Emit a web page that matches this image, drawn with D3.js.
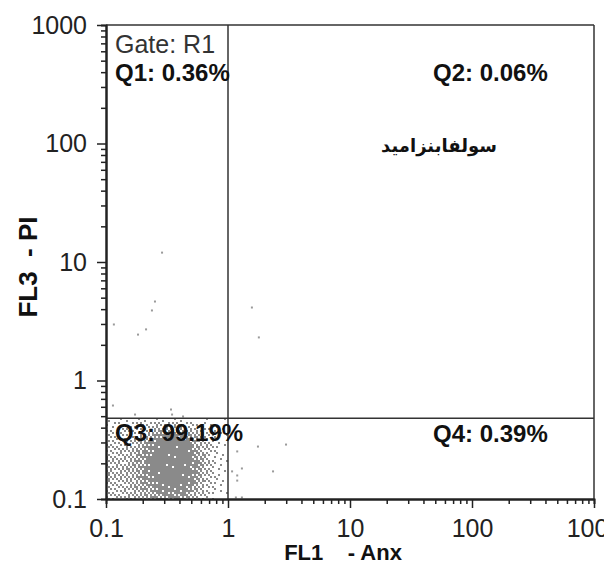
<!DOCTYPE html>
<html>
<head>
<meta charset="utf-8">
<script src="https://cdn.jsdelivr.net/npm/d3@7"></script>
<style>
  body { margin: 0; background: #fff; }
  text { font-family: "Liberation Sans", Arial, sans-serif; }
</style>
</head>
<body>
<svg width="604" height="564"></svg>
<script>
// decade tick labels on both axes
const xTicks = [0.1, 1, 10, 100, 1000];
const yTicks = [0.1, 1, 10, 100, 1000];

// quadrant gate
const gateX = 1;
const gateY = 0.48;
const gateName = "Gate: R1";
const quadNames = ["Q1: 0.36%", "Q2: 0.06%", "Q3: 99.19%", "Q4: 0.39%"];
const sampleName = "سولفابنزامید";
const xTitle = "FL1    - Anx";
const yTitle = "FL3  - PI";

// main population, estimated coverage (0..1) per 0.05 x 0.05 decade bin,
// x from 0.1 to 1, rows listed from top (log y = -0.30) to bottom (log y = -1)
const binDecades = 0.05;
const binXStart = 0.1;
const binYStart = 0.1;
const cloudDensity = [
  [0.05,0.05,0.08,0.10,0.10,0.10,0.12,0.12,0.12,0.12,0.12,0.12,0.10,0.10,0.08,0.06,0.05,0.04,0.03,0.02],
  [0.15,0.15,0.18,0.20,0.22,0.25,0.28,0.30,0.35,0.35,0.35,0.35,0.30,0.28,0.25,0.20,0.15,0.10,0.06,0.04],
  [0.20,0.22,0.25,0.28,0.30,0.35,0.40,0.50,0.60,0.65,0.70,0.65,0.60,0.50,0.40,0.30,0.20,0.14,0.08,0.05],
  [0.25,0.28,0.30,0.32,0.35,0.42,0.55,0.70,0.85,0.90,0.92,0.90,0.85,0.72,0.52,0.38,0.25,0.16,0.10,0.06],
  [0.30,0.30,0.32,0.36,0.42,0.50,0.66,0.84,0.94,0.97,0.97,0.97,0.95,0.85,0.65,0.45,0.30,0.20,0.12,0.07],
  [0.32,0.32,0.35,0.40,0.46,0.58,0.76,0.92,0.97,0.97,0.97,0.97,0.97,0.92,0.72,0.50,0.35,0.22,0.14,0.08],
  [0.35,0.35,0.38,0.42,0.50,0.64,0.82,0.95,0.97,0.97,0.97,0.97,0.97,0.95,0.78,0.55,0.38,0.24,0.15,0.08],
  [0.38,0.38,0.40,0.45,0.54,0.68,0.85,0.96,0.97,0.97,0.97,0.97,0.97,0.95,0.80,0.58,0.40,0.25,0.15,0.08],
  [0.40,0.40,0.42,0.47,0.56,0.70,0.86,0.96,0.97,0.97,0.97,0.97,0.97,0.95,0.80,0.58,0.40,0.25,0.15,0.08],
  [0.40,0.40,0.42,0.47,0.56,0.68,0.84,0.95,0.97,0.97,0.97,0.97,0.97,0.92,0.75,0.55,0.38,0.24,0.14,0.08],
  [0.38,0.38,0.40,0.45,0.52,0.64,0.80,0.92,0.96,0.97,0.97,0.97,0.95,0.88,0.70,0.50,0.35,0.22,0.13,0.07],
  [0.35,0.35,0.38,0.42,0.48,0.58,0.72,0.84,0.90,0.92,0.94,0.92,0.90,0.80,0.62,0.45,0.30,0.20,0.12,0.06],
  [0.32,0.32,0.35,0.38,0.42,0.50,0.60,0.72,0.80,0.84,0.86,0.84,0.80,0.70,0.52,0.38,0.26,0.17,0.10,0.05],
  [0.30,0.30,0.32,0.35,0.38,0.44,0.52,0.62,0.70,0.74,0.76,0.74,0.70,0.60,0.45,0.32,0.22,0.15,0.08,0.04]
];

// single events outside the main population [FL1, FL3]
const sparseEvents = [
  [0.288, 12.0], [0.252, 4.64], [0.238, 3.9], [0.116, 2.97], [0.183, 2.44], [0.213, 2.7],
  [1.57, 4.13], [1.79, 2.31],
  [0.114, 0.615], [0.173, 0.516], [0.341, 0.569], [0.348, 0.516], [0.428, 0.497],
  [1.19, 0.252], [1.76, 0.277], [2.99, 0.288], [1.30, 0.181], [1.08, 0.171],
  [1.19, 0.158], [1.19, 0.143], [2.34, 0.171], [1.16, 0.103], [1.30, 0.103]
];

const svg = d3.select("svg");
const margin = {top: 25, right: 10, bottom: 65, left: 106};
const W = +svg.attr("width"), H = +svg.attr("height");

const x = d3.scaleLog().domain([0.1, 1000]).range([margin.left, W - margin.right]);
const y = d3.scaleLog().domain([0.1, 1000]).range([H - margin.bottom, margin.top]);

const minorOf = ticks => ticks.slice(0, -1).flatMap(d => d3.range(2, 10).map(k => d * k));

// population drawn as dots on a 2px lattice, dithered by bin coverage
// (interleaved gradient threshold on the lattice index)
const step = 2;
const threshold = (i, j) => {
  const f = 0.06711056 * i + 0.00583715 * j;
  const g = 52.9829189 * (f - Math.floor(f));
  return g - Math.floor(g);
};
const dots = [];
const nRows = cloudDensity.length;
cloudDensity.forEach((row, ri) => {
  const r = nRows - 1 - ri;
  const y0 = y(binYStart * Math.pow(10, (r + 1) * binDecades));
  const y1 = y(binYStart * Math.pow(10, r * binDecades));
  row.forEach((v, c) => {
    const x0 = x(binXStart * Math.pow(10, c * binDecades));
    const x1 = x(binXStart * Math.pow(10, (c + 1) * binDecades));
    for (let px = Math.ceil(x0 / step) * step; px < x1; px += step) {
      for (let py = Math.ceil(y0 / step) * step; py < y1; py += step) {
        if (v > threshold(px / step, py / step)) dots.push([px, py]);
      }
    }
  });
});

svg.append("g")
  .selectAll("rect")
  .data(dots)
  .join("rect")
  .attr("x", d => d[0])
  .attr("y", d => d[1])
  .attr("width", 2)
  .attr("height", 2)
  .attr("fill", "#8a8a8a");

svg.append("g")
  .selectAll("rect")
  .data(sparseEvents)
  .join("rect")
  .attr("x", d => x(d[0]) - 1)
  .attr("y", d => y(d[1]) - 1)
  .attr("width", 2)
  .attr("height", 2)
  .attr("fill", "#9a9a9a");

// frame and gate lines
const frame = svg.append("g").attr("stroke", "#333").attr("stroke-width", 1.5);
frame.append("line")
  .attr("x1", x(0.1)).attr("x2", x(1000)).attr("y1", y(1000)).attr("y2", y(1000));
frame.append("line")
  .attr("x1", x(1000)).attr("x2", x(1000)).attr("y1", y(1000)).attr("y2", y(0.1));
frame.append("line")
  .attr("x1", x(gateX)).attr("x2", x(gateX)).attr("y1", y(1000)).attr("y2", y(0.1));
frame.append("line")
  .attr("x1", x(0.1)).attr("x2", x(1000)).attr("y1", y(gateY)).attr("y2", y(gateY));

// axes
const styleAxis = g => {
  g.select(".domain").attr("stroke", "#222").attr("stroke-width", 2);
  g.selectAll(".tick line").attr("stroke", "#222").attr("stroke-width", 1.5);
  g.selectAll(".tick text").attr("fill", "#222").style("font-size", "25px")
    .style("font-family", '"Liberation Sans", Arial, sans-serif');
};

svg.append("g")
  .attr("transform", `translate(0,${y(0.1)})`)
  .call(d3.axisBottom(x).tickValues(minorOf(xTicks)).tickSize(5).tickFormat(""))
  .call(styleAxis);
svg.append("g")
  .attr("transform", `translate(0,${y(0.1)})`)
  .call(d3.axisBottom(x).tickValues(xTicks).tickSize(9).tickPadding(11).tickSizeOuter(0)
    .tickFormat(d => String(d)))
  .call(styleAxis);

svg.append("g")
  .attr("transform", `translate(${x(0.1)},0)`)
  .call(d3.axisLeft(y).tickValues(minorOf(yTicks)).tickSize(5).tickFormat(""))
  .call(styleAxis);
svg.append("g")
  .attr("transform", `translate(${x(0.1)},0)`)
  .call(d3.axisLeft(y).tickValues(yTicks).tickSize(9).tickPadding(10).tickSizeOuter(0)
    .tickFormat(d => String(d)))
  .call(styleAxis);

// labels
const labels = svg.append("g");
labels.append("text")
  .attr("x", x(0.1) + 9).attr("y", y(1000) + 28)
  .attr("fill", "#333").style("font-size", "25px")
  .text(gateName);

const quadPos = [
  [x(0.1) + 9, y(1000) + 56],
  [x(1000) - 161, y(1000) + 56],
  [x(0.1) + 9, y(gateY) + 23],
  [x(1000) - 161, y(gateY) + 24]
];
labels.selectAll(".quad")
  .data(quadNames)
  .join("text")
  .attr("class", "quad")
  .attr("x", (d, i) => quadPos[i][0])
  .attr("y", (d, i) => quadPos[i][1])
  .attr("fill", "#111")
  .style("font-size", "24px")
  .style("font-weight", "bold")
  .text(d => d);

labels.append("text")
  .attr("x", 439).attr("y", 152)
  .attr("text-anchor", "middle")
  .attr("direction", "rtl")
  .style("font-family", '"DejaVu Sans", sans-serif')
  .style("font-size", "18px")
  .style("font-weight", "bold")
  .attr("fill", "#111")
  .text(sampleName);

labels.append("text")
  .attr("x", 343).attr("y", 560)
  .attr("text-anchor", "middle")
  .style("font-size", "22px")
  .style("font-weight", "bold")
  .style("white-space", "pre")
  .attr("fill", "#111")
  .text(xTitle);

labels.append("text")
  .attr("transform", `translate(37,267) rotate(-90)`)
  .attr("text-anchor", "middle")
  .style("font-size", "26px")
  .style("font-weight", "bold")
  .style("white-space", "pre")
  .attr("fill", "#111")
  .text(yTitle);
</script>
</body>
</html>
